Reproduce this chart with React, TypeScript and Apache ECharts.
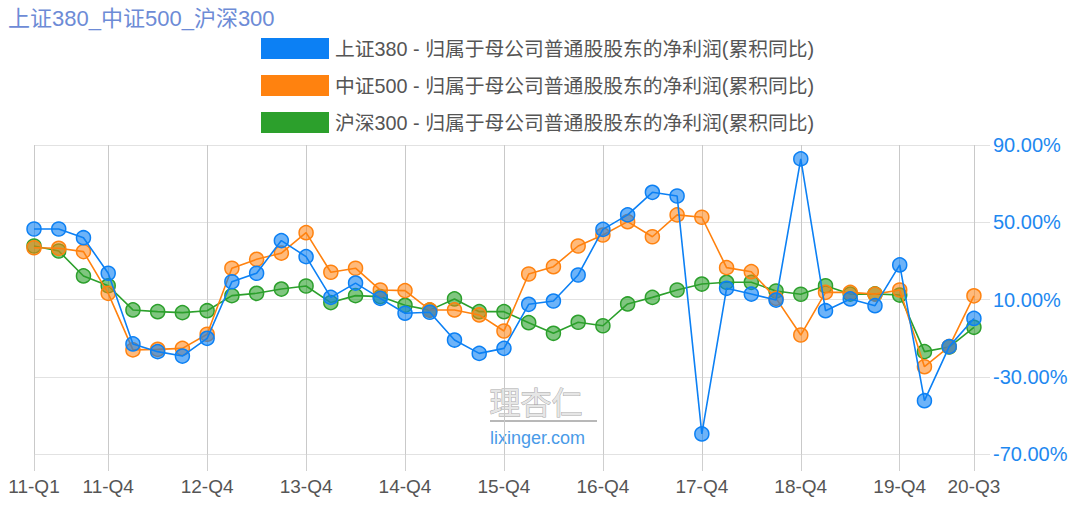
import React, { useEffect, useRef } from "react";
import * as echarts from "echarts";

const categories = [
  "11-Q1", "11-Q2", "11-Q3", "11-Q4",
  "12-Q1", "12-Q2", "12-Q3", "12-Q4",
  "13-Q1", "13-Q2", "13-Q3", "13-Q4",
  "14-Q1", "14-Q2", "14-Q3", "14-Q4",
  "15-Q1", "15-Q2", "15-Q3", "15-Q4",
  "16-Q1", "16-Q2", "16-Q3", "16-Q4",
  "17-Q1", "17-Q2", "17-Q3", "17-Q4",
  "18-Q1", "18-Q2", "18-Q3", "18-Q4",
  "19-Q1", "19-Q2", "19-Q3", "19-Q4",
  "20-Q1", "20-Q2", "20-Q3",
];

const labelledTicks = [0, 3, 7, 11, 15, 19, 23, 27, 31, 35, 38];

const sz380 = [
  46.5, 46.5, 42.0, 23.6, -13.0, -17.0, -19.3, -10.1, 19.2, 23.6, 40.5, 32.2,
  11.1, 18.5, 10.6, 2.9, 3.4, -11.0, -17.9, -15.3, 7.5, 9.2, 22.7, 46.3,
  53.8, 65.5, 63.6, -59.6, 15.8, 12.8, 9.7, 82.8, 4.2, 10.3, 6.8, 27.9,
  -42.4, -14.4, 0.2,
];

const zz500 = [
  36.8, 36.5, 34.8, 13.2, -16.1, -15.8, -15.3, -8.0, 26.2, 30.8, 34.0, 44.6,
  24.1, 26.2, 14.9, 14.6, 4.6, 4.6, 2.0, -6.3, 23.2, 27.0, 37.7, 43.4,
  50.3, 42.5, 53.8, 52.6, 26.5, 24.4, 10.6, -8.4, 13.7, 13.7, 12.8, 14.9,
  -24.8, -14.4, 11.9,
];

const hs300 = [
  37.7, 35.1, 22.2, 17.1, 4.6, 3.7, 3.2, 4.2, 12.0, 13.2, 15.4, 17.0,
  8.4, 12.0, 11.5, 7.0, 4.5, 10.3, 3.7, 3.7, -2.0, -7.5, -1.8, -3.6,
  7.7, 11.1, 14.9, 18.0, 18.9, 18.9, 14.4, 12.7, 17.1, 12.8, 12.9, 12.3,
  -17.0, -14.6, -4.4,
];

const seriesNames = [
  "上证380 - 归属于母公司普通股股东的净利润(累积同比)",
  "中证500 - 归属于母公司普通股股东的净利润(累积同比)",
  "沪深300 - 归属于母公司普通股股东的净利润(累积同比)",
];

const FONT = "'Liberation Sans', 'Noto Sans CJK SC', sans-serif";

function mkSeries(name: string, values: number[], color: string, fill: string, z: number) {
  return {
    name,
    type: "line",
    z,
    data: values.map((v, i) => [i, v]),
    symbol: "circle",
    symbolSize: 14,
    showSymbol: true,
    lineStyle: { color, width: 1.6 },
    itemStyle: { color: fill, borderColor: color, borderWidth: 1.5 },
    emphasis: { disabled: true },
  };
}

export default function App() {
  const ref = useRef<HTMLDivElement>(null);
  useEffect(() => {
    if (!ref.current) return;
    const chart = echarts.init(ref.current, null, { renderer: "svg" });
    const colors = ["#0c80f4", "#ff820f", "#2ca02c"];
    const fills = ["rgba(12,128,244,0.6)", "rgba(255,130,15,0.55)", "rgba(44,160,44,0.6)"];
    chart.setOption({
      animation: false,
      textStyle: { fontFamily: FONT },
      title: {
        text: "上证380_中证500_沪深300",
        left: 3,
        top: 2,
        textStyle: { color: "#6d8bd6", fontSize: 22, fontWeight: "normal", fontFamily: FONT },
      },
      legend: {
        orient: "vertical",
        left: 256,
        top: 33,
        itemWidth: 68,
        itemHeight: 21,
        itemGap: 16,
        icon: "rect",
        textStyle: { color: "#555", fontSize: 19.8, fontFamily: FONT, padding: [0, 0, 0, 1] },
        data: seriesNames.map((n, i) => ({ name: n, itemStyle: { color: colors[i], borderWidth: 0 } })),
      },
      grid: { left: 34, right: 90, top: 145, bottom: 52, containLabel: false },
      xAxis: {
        type: "value",
        min: 0,
        max: 38.65,
        axisLine: { show: false, onZero: false },
        axisTick: {
          show: true,
          customValues: labelledTicks,
          length: 17,
          lineStyle: { color: "#cfcfcf" },
        },
        axisLabel: {
          customValues: labelledTicks,
          formatter: (v: number) => categories[Math.round(v)] ?? "",
          color: "#555",
          fontSize: 19,
          margin: 23,
          fontFamily: FONT,
        },
        splitLine: { show: true, lineStyle: { color: "#c9c9c9", width: 1 } },
      },
      yAxis: {
        type: "value",
        position: "right",
        min: -70,
        max: 90,
        interval: 40,
        axisLine: { show: false },
        axisTick: { show: false },
        axisLabel: {
          formatter: (v: number) => v.toFixed(2) + "%",
          color: "#1e88f0",
          fontSize: 20,
          margin: 3,
          fontFamily: FONT,
        },
        splitLine: { show: true, lineStyle: { color: "#e2e2e2", width: 1 } },
      },
      graphic: [
        {
          type: "text",
          left: 489,
          top: 385,
          z: 0,
          style: {
            text: "理杏仁",
            fontSize: 31,
            lineHeight: 31,
            fontFamily: "'Noto Sans CJK SC', sans-serif",
            fill: "#e6e6e6",
            stroke: "#a8a8a8",
            lineWidth: 1,
          },
        },
        {
          type: "rect",
          left: 490,
          top: 420,
          z: 0,
          shape: { width: 107, height: 2 },
          style: { fill: "#b8b8b8" },
        },
        {
          type: "text",
          left: 490,
          top: 429,
          z: 0,
          style: {
            text: "lixinger.com",
            fontSize: 18,
            lineHeight: 18,
            fontFamily: FONT,
            fill: "#4a9be8",
          },
        },
      ],
      series: [
        mkSeries(seriesNames[0], sz380, colors[0], fills[0], 5),
        mkSeries(seriesNames[1], zz500, colors[1], fills[1], 4),
        mkSeries(seriesNames[2], hs300, colors[2], fills[2], 3),
      ],
    });
    return () => chart.dispose();
  }, []);
  return <div ref={ref} style={{ width: 1080, height: 506, position: "absolute", left: 0, top: 0 }} />;
}
